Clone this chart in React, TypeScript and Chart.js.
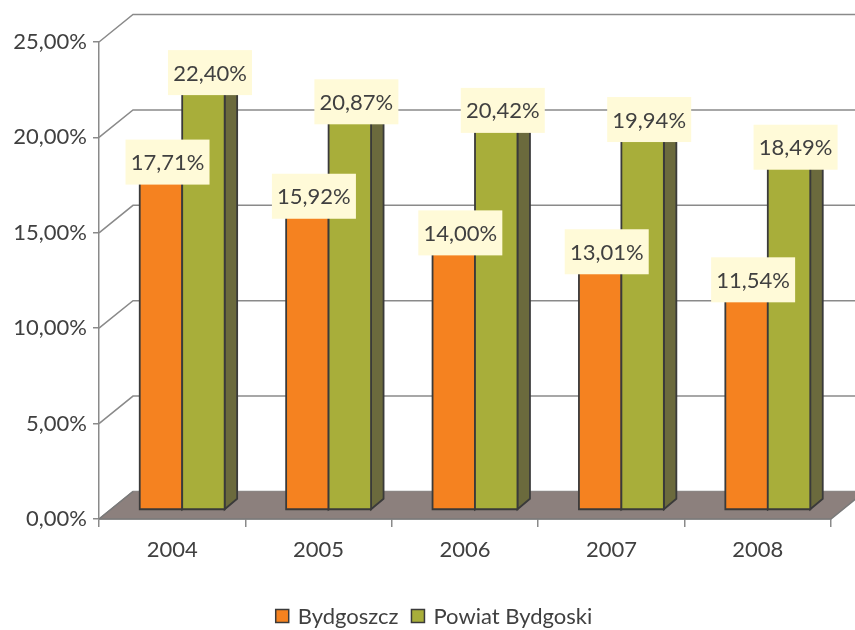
import { useEffect, useRef } from "react";
import { Chart, registerables } from "chart.js";

Chart.register(...registerables);

const categories = ["2004", "2005", "2006", "2007", "2008"];
const bydgoszcz = [17.71, 15.92, 14.0, 13.01, 11.54];
const powiat = [22.4, 20.87, 20.42, 19.94, 18.49];
const seriesLabels = ["Bydgoszcz", "Powiat Bydgoski"];
const yTicks = [0, 5, 10, 15, 20, 25];

const FONT = "Lato, 'Open Sans', sans-serif";
const TEXT = "#404040";
const GRID = "#8a8a8a";
const fmt = (v: number) => v.toFixed(2).replace(".", ",") + "%";

const WALL_DX = 34;
const WALL_DY = 27.5;
const BAR_DX = 10;
const BAR_DY = 9;
const DEPTH_DX = 12.5;
const DEPTH_DY = 10.5;
const FRONT = ["#f58220", "#a8ae3a"];
const SIDE = ["#a8561a", "#6b6a3d"];
const TOPC = ["#f9a35c", "#c5ca62"];
const EDGE = "#3a3a3a";

function poly(ctx: CanvasRenderingContext2D, pts: number[][], fill: string) {
  ctx.beginPath();
  ctx.moveTo(pts[0][0], pts[0][1]);
  for (let i = 1; i < pts.length; i++) ctx.lineTo(pts[i][0], pts[i][1]);
  ctx.closePath();
  ctx.fillStyle = fill;
  ctx.fill();
  ctx.stroke();
}

const bars3d = {
  id: "bars3d",
  beforeDatasetsDraw(chart: any) {
    const ctx: CanvasRenderingContext2D = chart.ctx;
    const { left, right } = chart.chartArea;
    const ys = chart.scales.y;
    ctx.save();
    // back & side wall gridlines
    ctx.strokeStyle = GRID;
    ctx.lineWidth = 1.5;
    for (const v of yTicks) {
      const py = ys.getPixelForValue(v);
      ctx.beginPath();
      ctx.moveTo(left, py);
      ctx.lineTo(left + WALL_DX, py - WALL_DY);
      ctx.lineTo(right + WALL_DX, py - WALL_DY);
      ctx.stroke();
    }
    // floor
    const p0 = ys.getPixelForValue(0);
    ctx.beginPath();
    ctx.moveTo(left, p0);
    ctx.lineTo(right, p0);
    ctx.lineTo(right + WALL_DX, p0 - WALL_DY);
    ctx.lineTo(left + WALL_DX, p0 - WALL_DY);
    ctx.closePath();
    ctx.fillStyle = "#8c807d";
    ctx.fill();
    ctx.strokeStyle = "#7a7a7a";
    ctx.lineWidth = 1.5;
    ctx.beginPath();
    ctx.moveTo(left, p0);
    ctx.lineTo(left + WALL_DX, p0 - WALL_DY);
    ctx.moveTo(left, p0);
    ctx.lineTo(right, p0);
    ctx.lineTo(right + WALL_DX, p0 - WALL_DY);
    ctx.stroke();

    // bars
    ctx.strokeStyle = EDGE;
    ctx.lineWidth = 1.8;
    ctx.lineJoin = "miter";
    const n = categories.length;
    const labels: { x: number; y: number; t: string }[] = [];
    for (let i = 0; i < n; i++) {
      for (let d = 0; d < chart.data.datasets.length; d++) {
        const el = chart.getDatasetMeta(d).data[i];
        const { x, y, base, width } = el.getProps(["x", "y", "base", "width"], true);
        const x0 = x - width / 2 + BAR_DX;
        const x1 = x + width / 2 + BAR_DX;
        const yt = y - BAR_DY;
        const yb = base - BAR_DY;
        poly(ctx, [[x1, yb], [x1 + DEPTH_DX, yb - DEPTH_DY], [x1 + DEPTH_DX, yt - DEPTH_DY], [x1, yt]], SIDE[d]);
        poly(ctx, [[x0, yt], [x1, yt], [x1 + DEPTH_DX, yt - DEPTH_DY], [x0 + DEPTH_DX, yt - DEPTH_DY]], TOPC[d]);
        poly(ctx, [[x0, yt], [x1, yt], [x1, yb], [x0, yb]], FRONT[d]);
        labels.push({ x: x + BAR_DX + DEPTH_DX / 2 + 0.3, y: y - 19, t: fmt(chart.data.datasets[d].data[i]) });
      }
    }
    // data labels
    ctx.font = `22px ${FONT}`;
    ctx.textAlign = "center";
    ctx.textBaseline = "middle";
    for (const l of labels) {
      ctx.fillStyle = "#fffad8";
      ctx.fillRect(l.x - 42, l.y - 22.5, 84, 45);
      ctx.fillStyle = TEXT;
      ctx.fillText(l.t, l.x, l.y + 1);
    }
    ctx.restore();
    return false;
  },
  afterDraw(chart: any) {
    const ctx: CanvasRenderingContext2D = chart.ctx;
    ctx.save();
    ctx.font = `22px ${FONT}`;
    ctx.textBaseline = "middle";
    ctx.textAlign = "left";
    const box = 13;
    const gapBox = 9;
    const gapItem = 13;
    const widths = seriesLabels.map((s) => ctx.measureText(s).width);
    const total = widths.reduce((a, b) => a + b, 0) + seriesLabels.length * (box + gapBox) + gapItem * (seriesLabels.length - 1);
    let x = 434 - total / 2;
    const cy = 616;
    seriesLabels.forEach((s, i) => {
      ctx.fillStyle = FRONT[i];
      ctx.fillRect(x, cy - box / 2, box, box);
      ctx.strokeStyle = EDGE;
      ctx.lineWidth = 1.5;
      ctx.strokeRect(x, cy - box / 2, box, box);
      x += box + gapBox;
      ctx.fillStyle = TEXT;
      ctx.fillText(s, x, cy + 1);
      x += widths[i] + gapItem;
    });
    ctx.restore();
  },
};

export default function App() {
  const ref = useRef<HTMLCanvasElement | null>(null);
  useEffect(() => {
    document.body.style.margin = "0";
    const canvas = ref.current!;
    const chart = new Chart(canvas, {
      type: "bar",
      data: {
        labels: categories,
        datasets: [
          { label: seriesLabels[0], data: bydgoszcz, backgroundColor: FRONT[0] },
          { label: seriesLabels[1], data: powiat, backgroundColor: FRONT[1] },
        ],
      },
      options: {
        responsive: false,
        animation: false,
        devicePixelRatio: 1,
        layout: { padding: { top: 42, right: 24, left: 0, bottom: 0 } },
        datasets: { bar: { categoryPercentage: 0.58, barPercentage: 1 } },
        plugins: { legend: { display: false }, tooltip: { enabled: false } },
        scales: {
          x: {
            offset: true,
            grid: { offset: true, drawOnChartArea: false, drawTicks: true, tickLength: 8, color: GRID, lineWidth: 1.5 },
            border: { display: true, color: GRID, width: 1.5 },
            ticks: { color: TEXT, font: { family: FONT, size: 22 }, padding: 10 },
            afterFit: (s: any) => {
              s.height = 111;
            },
          },
          y: {
            min: 0,
            max: 25,
            grid: { drawOnChartArea: false, drawTicks: true, tickLength: 6, color: GRID, lineWidth: 1.5 },
            border: { display: true, color: GRID, width: 1.5 },
            ticks: {
              stepSize: 5,
              color: TEXT,
              font: { family: FONT, size: 22 },
              padding: 6,
              callback: (v: any) => fmt(Number(v)),
            },
            afterFit: (s: any) => {
              s.width = 99;
            },
          },
        },
      },
      plugins: [bars3d],
    });
    return () => chart.destroy();
  }, []);
  return <canvas ref={ref} width={855} height={630} style={{ display: "block" }} />;
}
